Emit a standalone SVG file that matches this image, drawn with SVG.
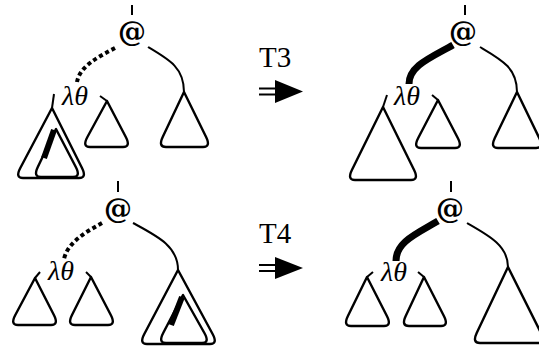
<svg xmlns="http://www.w3.org/2000/svg" width="539" height="352" viewBox="0 0 539 352">
<style>
.tri{fill:none;stroke:#000;stroke-width:2.4;stroke-linejoin:round}
.ln{fill:none;stroke:#000;stroke-width:2}
.dot{fill:none;stroke:#000;stroke-width:4;stroke-dasharray:4 3}
.thick{fill:none;stroke:#000;stroke-width:7}
.bar{stroke:#000;stroke-width:6}
.at{font-family:"DejaVu Serif",serif;font-size:28px;font-weight:bold;text-anchor:middle}
.lam{font-family:"Liberation Serif",serif;font-size:28px;font-style:italic}
.lbl{font-family:"Liberation Serif",serif;font-size:29px}
</style>
<rect width="539" height="352" fill="#fff"/>
<g id="connectors">
<path class="ln" d="M132,5V15"/>
<path class="ln" d="M465,5V15"/>
<path class="ln" d="M118,181V192"/>
<path class="ln" d="M451,181V192"/>
<path class="dot" d="M115,48 C98,57 80,66 77,82"/>
<path class="ln" d="M148,47 C170,60 184,68 184,92"/>
<path class="ln" d="M54,94 L52,108"/>
<path class="ln" d="M100,96 L107,101"/>
<path class="thick" d="M453,45 C430,58 409,66 409,84"/>
<path class="ln" d="M480,47 C502,60 517,68 517,92"/>
<path class="ln" d="M387,95 L383,107"/>
<path class="ln" d="M432,95 L438,100"/>
<path class="dot" d="M102,223 C86,232 68,242 64,259"/>
<path class="ln" d="M133,223 C157,236 178,246 178,270"/>
<path class="ln" d="M40,272 L35,278"/>
<path class="ln" d="M86,272 L91,277"/>
<path class="thick" d="M438,221 C416,234 396,242 396,261"/>
<path class="ln" d="M467,223 C490,236 508,246 508,267"/>
<path class="ln" d="M373,272 L367,277"/>
<path class="ln" d="M418,272 L424,277"/>
</g>
<g id="tl-app"><text class="at" x="132" y="41">@</text></g>
<g id="tl-lam"><text class="lam" x="62" y="105">λθ</text></g>
<g id="tl-sub1">
<path class="tri" d="M52,108 L20.3,168 Q15,178 23,178 L79,178 Q87,178 82,168 Z"/>
<path class="tri" d="M56,129 L37.8,167 Q33,177 41,177 L73,177 Q81,177 75.8,167 Z"/>
<path class="bar" d="M54,130 L44,158"/>
</g>
<g id="tl-sub2"><path class="tri" d="M107,101 L87.4,137 Q82,147 90,147 L123,147 Q131,147 125.8,137 Z"/></g>
<g id="tl-sub3"><path class="tri" d="M184,92 L162.7,137 Q158,147 166,147 L203,147 Q211,147 206.1,137 Z"/></g>
<g id="arrow-t3">
<text class="lbl" x="259" y="67">T3</text>
<path class="ln" d="M259,88.5H278M259,94.5H278" stroke-width="1.6"/>
<path d="M275,80 L303,91.5 L275,103 Z"/>
</g>
<g id="tr-app"><text class="at" x="463" y="41">@</text></g>
<g id="tr-lam"><text class="lam" x="394" y="105">λθ</text></g>
<g id="tr-sub1"><path class="tri" d="M383,107 L351.9,170 Q347,180 355,180 L411,180 Q419,180 414.1,170 Z"/></g>
<g id="tr-sub2"><path class="tri" d="M438,100 L418.2,138 Q413,148 421,148 L455,148 Q463,148 457.8,138 Z"/></g>
<g id="tr-sub3"><path class="tri" d="M517,92 L494.8,138 Q490,148 498,148 L536,148 Q544,148 539.2,138 Z"/></g>
<g id="bl-app"><text class="at" x="118" y="218">@</text></g>
<g id="bl-lam"><text class="lam" x="48" y="280">λθ</text></g>
<g id="bl-sub1"><path class="tri" d="M35,278 L15.3,315 Q10,325 18,325 L51,325 Q59,325 53.9,315 Z"/></g>
<g id="bl-sub2"><path class="tri" d="M91,277 L72,315 Q67,325 75,325 L108,325 Q116,325 110.8,315 Z"/></g>
<g id="bl-sub3">
<path class="tri" d="M178,270 L144.3,334 Q139,344 147,344 L210,344 Q218,344 212.6,334 Z"/>
<path class="tri" d="M183,295 L163.2,333 Q158,343 166,343 L202,343 Q210,343 204.4,333 Z"/>
<path class="bar" d="M182,297 L171,325"/>
</g>
<g id="arrow-t4">
<text class="lbl" x="259" y="243">T4</text>
<path class="ln" d="M259,265H278M259,271H278" stroke-width="1.6"/>
<path d="M275,257 L303,268 L275,279 Z"/>
</g>
<g id="br-app"><text class="at" x="450" y="218">@</text></g>
<g id="br-lam"><text class="lam" x="381" y="281">λθ</text></g>
<g id="br-sub1"><path class="tri" d="M367,277 L347.9,316 Q343,326 351,326 L384,326 Q392,326 386.9,316 Z"/></g>
<g id="br-sub2"><path class="tri" d="M424,277 L405.7,316 Q401,326 409,326 L441,326 Q449,326 443.9,316 Z"/></g>
<g id="br-sub3"><path class="tri" d="M508,267 L476.7,333 Q472,343 480,343 L538,343 Q546,343 541,333 Z"/></g>
</svg>
